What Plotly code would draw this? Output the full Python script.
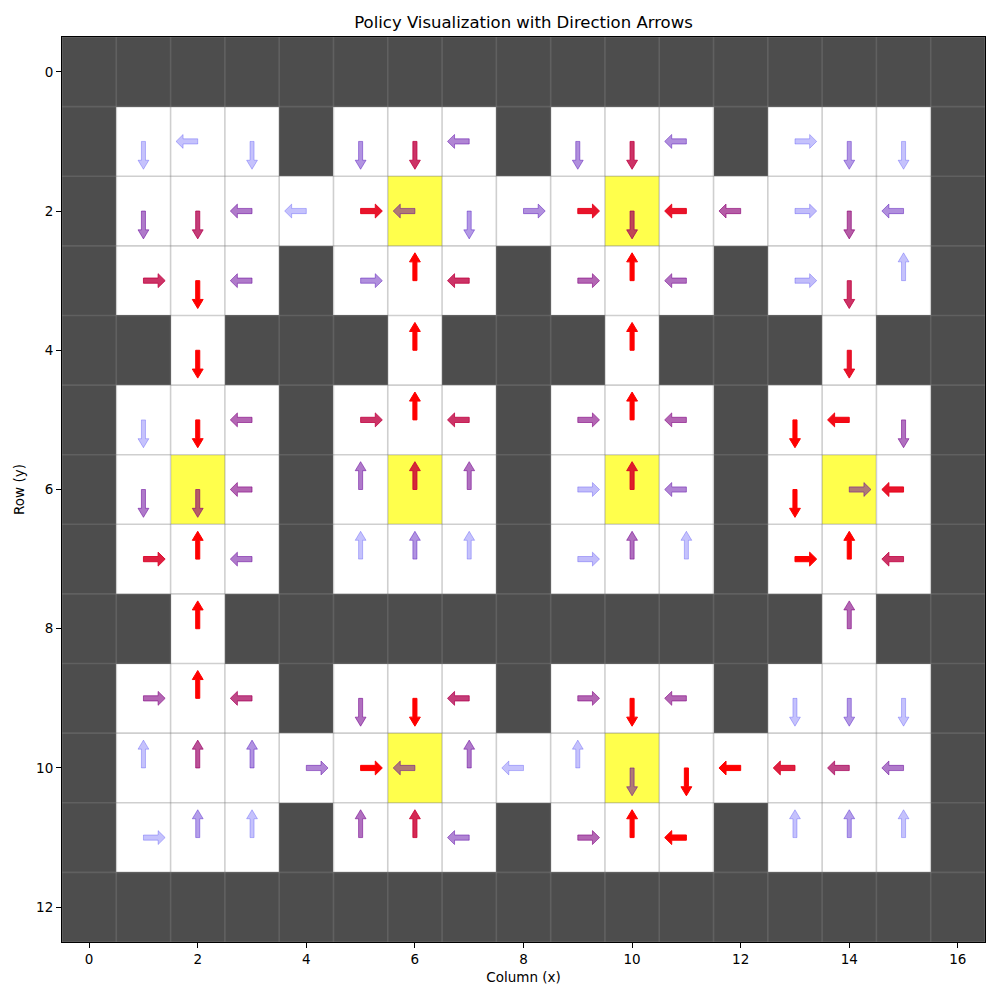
import plotly.graph_objects as go

# ---------------- data ----------------
# '#' wall, '.' open, 'G' goal
maze = [
    "#################",
    "#...#...#...#...#",
    "#.....G...G.....#",
    "#...#...#...#...#",
    "##.###.###.###.##",
    "#...#...#...#...#",
    "#.G.#.G.#.G.#.G.#",
    "#...#...#...#...#",
    "##.###########.##",
    "#...#...#...#...#",
    "#.....G...G.....#",
    "#...#...#...#...#",
    "#################",
]

# greedy action per cell: U/D/L/R ('#' = none)
policy = [
    "#################",
    "#DLD#DDL#DDL#RDD#",
    "#DDLLRLDRRDLLRDL#",
    "#RDL#RUL#RUL#RDU#",
    "##D###U###U###D##",
    "#DDL#RUL#RUL#DLD#",
    "#DDL#UUU#RUL#DRL#",
    "#RUL#UUU#RUU#RUL#",
    "##U###########U##",
    "#RUL#DDL#RDL#DDD#",
    "#UUURRLULUDDLLLL#",
    "#RUU#UUL#RUL#UUU#",
    "#################",
]

# action probability / confidence per cell (0 for walls)
confidence = [
    [0]*17,
    [0, .05, .05, .05, 0, .28, .75, .35, 0, .30, .75, .30, 0, .05, .25, .05, 0],
    [0, .40, .70, .40, .05, .90, .40, .25, .30, .90, .65, .90, .55, .08, .55, .30, 0],
    [0, .75, 1.0, .40, 0, .30, 1.0, .75, 0, .50, 1.0, .45, 0, .08, .75, .05, 0],
    [0, 0, 1.0, 0, 0, 0, 1.0, 0, 0, 0, 1.0, 0, 0, 0, .90, 0, 0],
    [0, .05, 1.0, .50, 0, .75, 1.0, .75, 0, .50, 1.0, .50, 0, 1.0, .95, .45, 0],
    [0, .40, .55, .50, 0, .40, .80, .45, 0, .08, .85, .35, 0, 1.0, .40, .90, 0],
    [0, .85, 1.0, .40, 0, .05, .28, .05, 0, .08, .45, .05, 0, 1.0, 1.0, .75, 0],
    [0, 0, 1.0, 0, 0, 0, 0, 0, 0, 0, 0, 0, 0, 0, .50, 0, 0],
    [0, .50, 1.0, .65, 0, .45, 1.0, .70, 0, .50, 1.0, .50, 0, .05, .25, .05, 0],
    [0, .05, .60, .28, .35, 1.0, .40, .40, .05, .05, .40, 1.0, 1.0, .85, .65, .40, 0],
    [0, .05, .22, .05, 0, .45, .80, .35, 0, .50, 1.0, 1.0, 0, .05, .22, .05, 0],
    [0]*17,
]

x_ticks = list(range(0, 17, 2))
y_ticks = list(range(0, 13, 2))

# ---------------- style ----------------
WALL = "rgb(77,77,77)"
OPEN = "rgb(255,255,255)"
GOAL = "rgb(255,255,76)"
FONT = "DejaVu Sans"

ARROW_LEN = 0.4
SHAFT_W = 0.075
HEAD_W = 0.2
HEAD_L = 0.13

DIRS = {"U": (0, -1), "D": (0, 1), "L": (-1, 0), "R": (1, 0)}

n_rows = len(maze)
n_cols = len(maze[0])

code = {"#": 0, ".": 1, "G": 2}
z = [[code[c] for c in row] for row in maze]

fig = go.Figure()
fig.add_trace(go.Heatmap(
    z=z,
    x=list(range(n_cols)),
    y=list(range(n_rows)),
    zmin=0, zmax=2,
    colorscale=[[0, WALL], [0.25, WALL], [0.25, OPEN], [0.75, OPEN], [0.75, GOAL], [1, GOAL]],
    showscale=False,
    hoverinfo="skip",
))

# cell grid lines
gx, gy = [], []
for k in range(n_cols + 1):
    gx += [k - 0.5, k - 0.5, None]
    gy += [-0.5, n_rows - 0.5, None]
for k in range(n_rows + 1):
    gx += [-0.5, n_cols - 0.5, None]
    gy += [k - 0.5, k - 0.5, None]
fig.add_trace(go.Scatter(x=gx, y=gy, mode="lines",
                         line=dict(color="rgba(128,128,128,0.38)", width=1.6),
                         hoverinfo="skip", showlegend=False))


def arrow_poly(cx, cy, ux, uy):
    px, py = -uy, ux
    shaft = ARROW_LEN - HEAD_L
    pts = [
        (cx + px * SHAFT_W / 2, cy + py * SHAFT_W / 2),
        (cx + ux * shaft + px * SHAFT_W / 2, cy + uy * shaft + py * SHAFT_W / 2),
        (cx + ux * shaft + px * HEAD_W / 2, cy + uy * shaft + py * HEAD_W / 2),
        (cx + ux * ARROW_LEN, cy + uy * ARROW_LEN),
        (cx + ux * shaft - px * HEAD_W / 2, cy + uy * shaft - py * HEAD_W / 2),
        (cx + ux * shaft - px * SHAFT_W / 2, cy + uy * shaft - py * SHAFT_W / 2),
        (cx - px * SHAFT_W / 2, cy - py * SHAFT_W / 2),
        (cx + px * SHAFT_W / 2, cy + py * SHAFT_W / 2),
    ]
    return [p[0] for p in pts], [p[1] for p in pts]


for r in range(n_rows):
    for c in range(n_cols):
        a = policy[r][c]
        if a not in DIRS:
            continue
        p = confidence[r][c]
        ux, uy = DIRS[a]
        xs, ys = arrow_poly(c, r, ux, uy)
        alpha = 0.2 + 0.8 * p
        col = f"rgba({int(round(255 * p))},0,{int(round(255 * (1 - p)))},{alpha:.3f})"
        fig.add_trace(go.Scatter(
            x=xs, y=ys, mode="lines", fill="toself",
            fillcolor=col, line=dict(color=col, width=1),
            hoverinfo="skip", showlegend=False,
        ))

fig.update_layout(
    width=1000, height=1000,
    margin=dict(l=62, r=15, t=37, b=58),
    paper_bgcolor="white",
    plot_bgcolor="white",
    showlegend=False,
    font=dict(family=FONT, size=13, color="black"),
    title=dict(text="Policy Visualization with Direction Arrows",
               x=0.5235, xanchor="center", y=0.978, yanchor="middle",
               yref="container", font=dict(family=FONT, size=16.5, color="black")),
)
fig.update_xaxes(
    range=[-0.5, n_cols - 0.5], tickvals=x_ticks, ticktext=[str(v) for v in x_ticks],
    ticks="outside", ticklen=5, tickwidth=1, tickcolor="black",
    showline=True, linecolor="black", linewidth=1, mirror=True,
    showgrid=False, zeroline=False,
    title=dict(text="Column (x)", font=dict(family=FONT, size=13.5), standoff=6),
    tickfont=dict(family=FONT, size=13.5),
)
fig.update_yaxes(
    range=[n_rows - 0.5, -0.5], tickvals=y_ticks, ticktext=[str(v) for v in y_ticks],
    ticks="outside", ticklen=5, tickwidth=1, tickcolor="black",
    showline=True, linecolor="black", linewidth=1, mirror=True,
    showgrid=False, zeroline=False,
    title=dict(text="Row (y)", font=dict(family=FONT, size=13.5), standoff=8),
    tickfont=dict(family=FONT, size=13.5),
)

fig.write_html("out.html")
